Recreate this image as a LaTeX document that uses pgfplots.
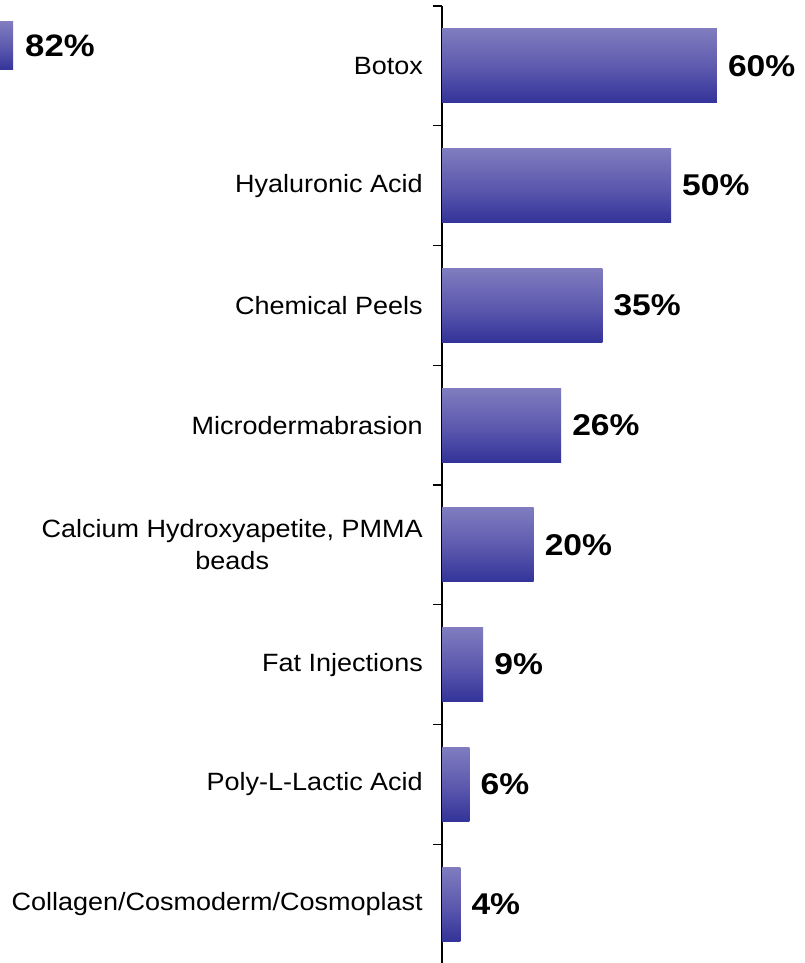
\documentclass[border=0pt]{standalone}
\usepackage{fontspec}
\setmainfont{Liberation Sans}
\newfontfamily\lab[FakeStretch=1.08]{Liberation Sans}
\newfontfamily\val[FakeStretch=1.12]{Liberation Sans}
\usepackage{pgfplots}
\pgfplotsset{compat=1.18}
\definecolor{barTop}{HTML}{807CBF}
\definecolor{barMid}{HTML}{5E5BAF}
\definecolor{barBot}{HTML}{333399}
\pgfplotsset{gbar/.style={draw=none, top color=barTop, bottom color=barBot, middle color=barMid}}
\begin{document}
\begin{tikzpicture}[x=1pt,y=1pt]
\useasboundingbox (0,0) rectangle (804,963);
\begin{axis}[
  at={(442pt,-1pt)}, anchor=south west, scale only axis,
  width=360pt, height=958pt,
  xmin=0, xmax=78.6, ymin=-0.5, ymax=7.5, y dir=reverse,
  axis x line=none, axis y line=left,
  y axis line style={-, line width=1.3pt, black},
  ytick={0,...,7},
  yticklabels={Botox, Hyaluronic Acid, Chemical Peels, Microdermabrasion, {Calcium Hydroxyapetite, PMMA\\beads}, Fat Injections, Poly-L-Lactic Acid, Collagen/Cosmoderm/Cosmoplast},
  major tick length=0pt,
  minor ytick={-0.5,0.5,...,7.5}, minor tick length=9pt, tick align=outside,
  minor tick style={black, line width=1.2pt},
  yticklabel style={font=\lab\fontsize{25}{32}\selectfont, align=center, inner sep=0pt, xshift=-19pt},
  xbar, bar width=74pt, bar shift=0pt,
  nodes near coords={\pgfmathprintnumber[assume math mode=true]{\pgfplotspointmeta}\%},
  every node near coord/.append style={font=\val\bfseries\fontsize{30}{30}\selectfont, anchor=west, inner sep=0pt, xshift=11pt},
  clip=false,
]
\addplot[gbar] coordinates {(60,0)};
\addplot[gbar] coordinates {(50,1)};
\addplot[gbar] coordinates {(35,2)};
\addplot[gbar] coordinates {(26,3)};
\addplot[gbar] coordinates {(20,4)};
\addplot[gbar] coordinates {(9,5)};
\addplot[gbar] coordinates {(6,6)};
\addplot[gbar] coordinates {(4,7)};
\end{axis}
\begin{axis}[
  at={(0pt,893pt)}, anchor=south west, scale only axis,
  width=13pt, height=48pt,
  xmin=79.2, xmax=82, ymin=-0.5, ymax=0.5,
  hide axis, xbar, bar width=48pt, clip=false,
  nodes near coords={\pgfmathprintnumber[assume math mode=true]{\pgfplotspointmeta}\%},
  every node near coord/.append style={font=\val\bfseries\fontsize{31}{31}\selectfont, anchor=west, inner sep=0pt, xshift=12pt},
]
\addplot[gbar] coordinates {(82,0)};
\end{axis}
\end{tikzpicture}
\end{document}
